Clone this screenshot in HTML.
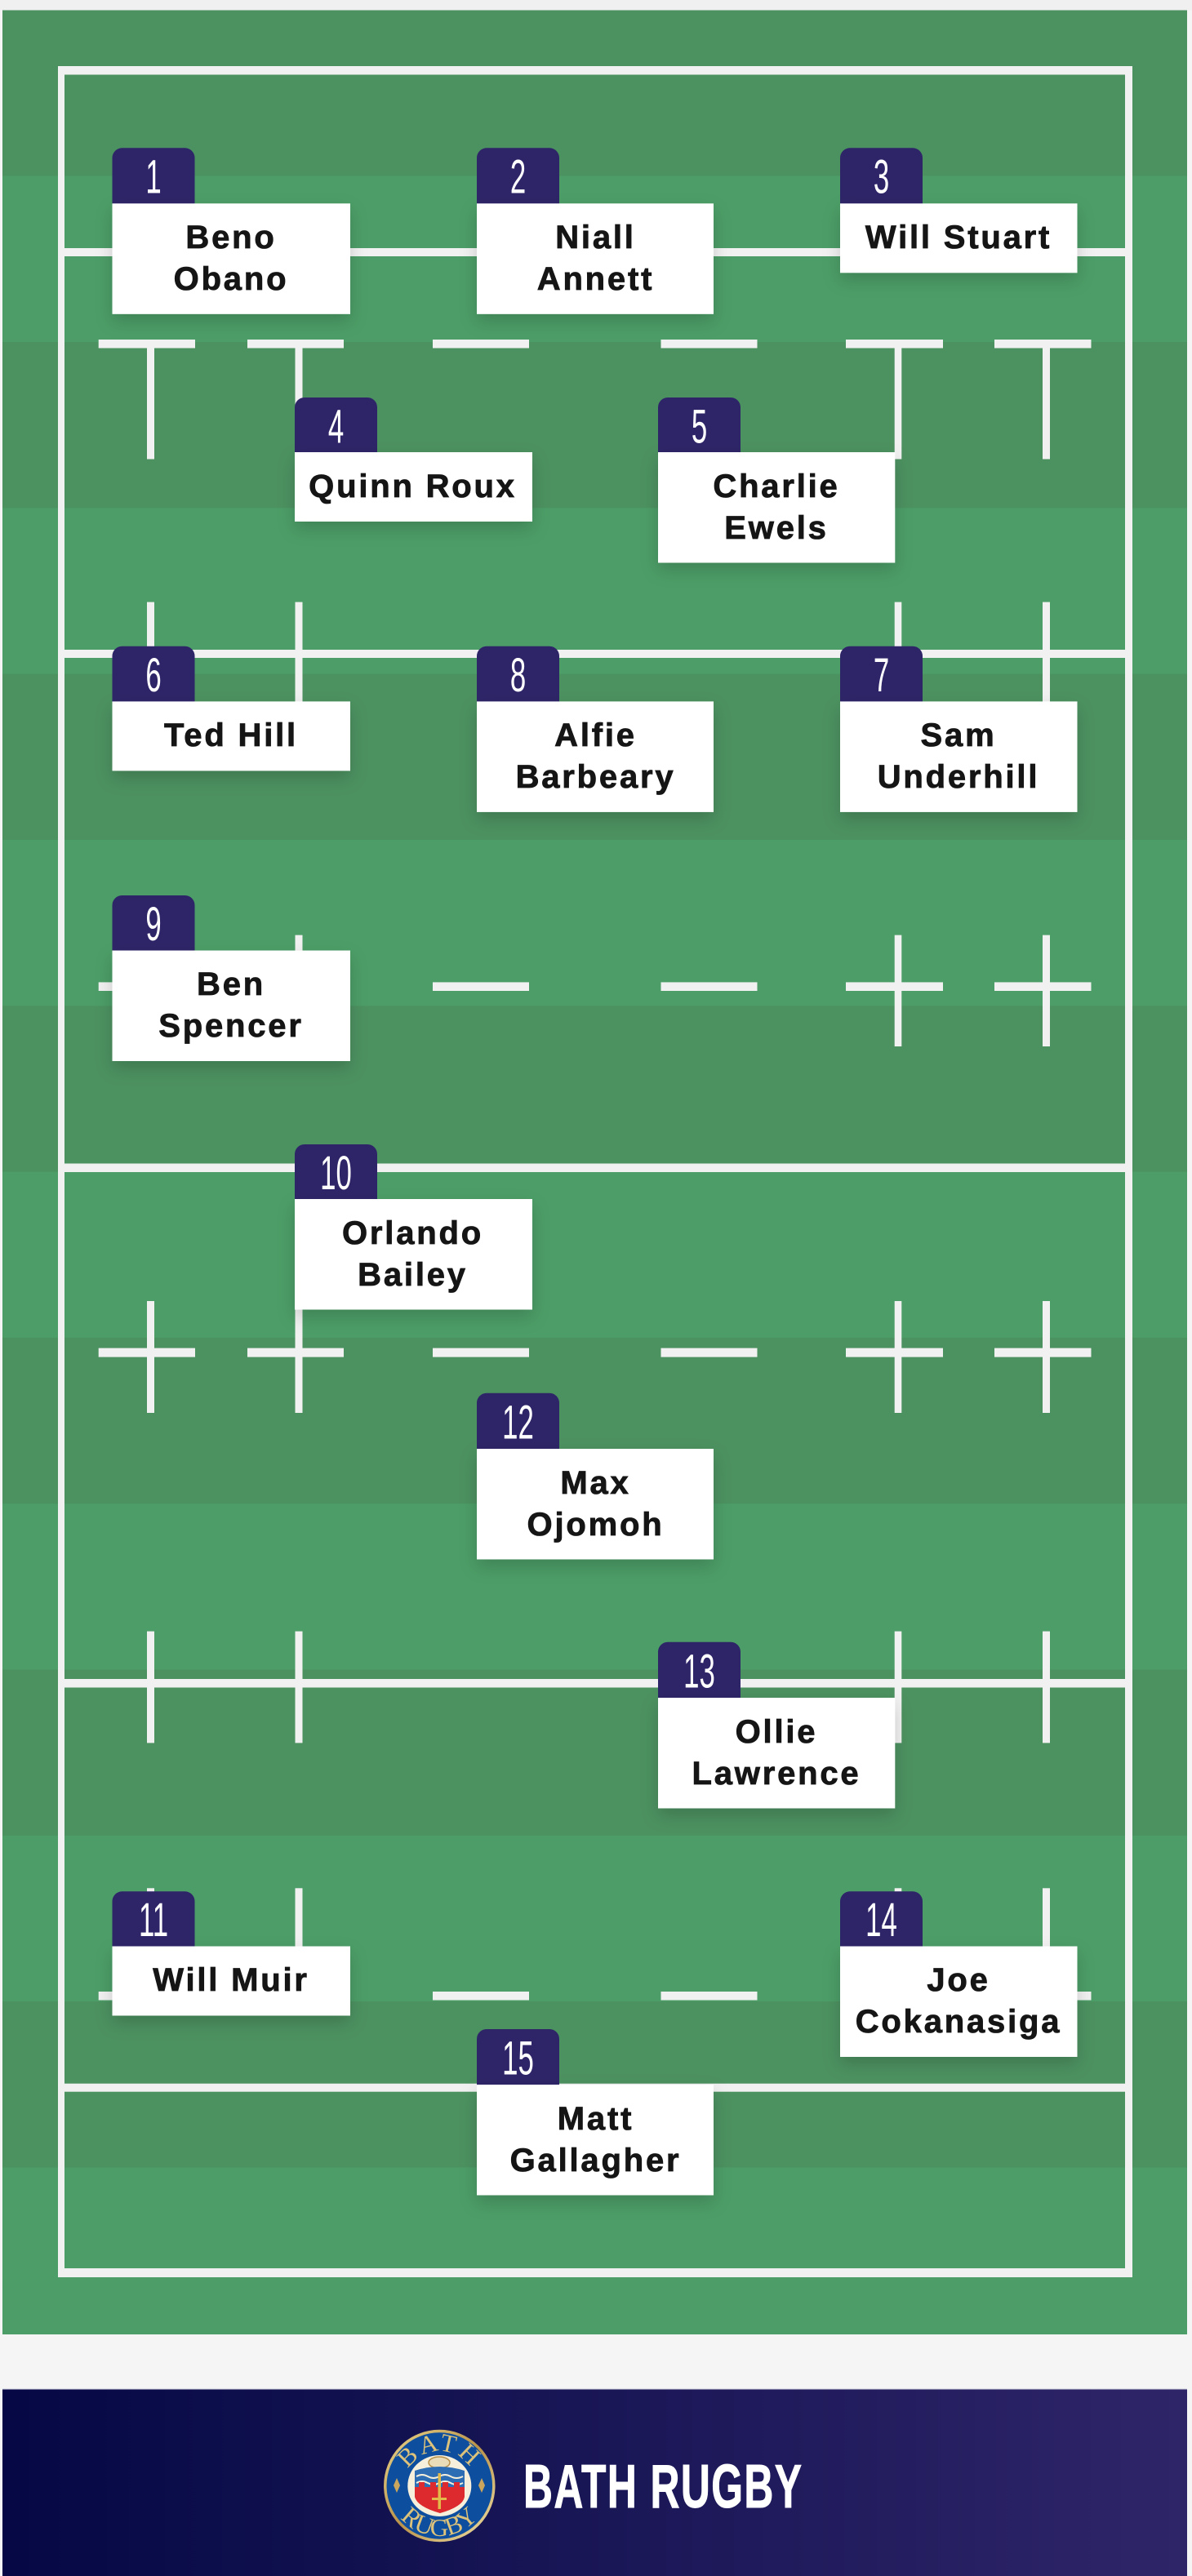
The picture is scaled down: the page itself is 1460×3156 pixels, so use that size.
<!DOCTYPE html>
<html lang="en">
<head>
<meta charset="utf-8">
<title>Bath Rugby Team Sheet</title>
<style>
html,body{margin:0;padding:0;width:1460px;height:3156px;overflow:hidden;background:#f5f5f5}
svg{display:block}
.n{font-family:"Liberation Sans",Arimo,sans-serif;font-weight:700;font-size:40px;letter-spacing:2.8px;fill:#151515;stroke:#151515;stroke-width:.8px;text-anchor:middle}
.d{font-family:"Liberation Sans Narrow","Liberation Sans",sans-serif;font-weight:400;font-size:58px;fill:#fff;text-anchor:middle}
.tab{fill:#2e2568}
.card{fill:#fff;filter:url(#sh)}
.l rect{fill:#f1f1f1}
</style>
</head>
<body>
<svg width="1460" height="3156" viewBox="0 0 1460 3156" xmlns="http://www.w3.org/2000/svg">
<defs>
<filter id="sh" x="-20%" y="-40%" width="140%" height="200%">
<feDropShadow dx="0" dy="9" stdDeviation="10" flood-color="#000" flood-opacity=".17"/>
</filter>
<linearGradient id="foot" x1="0" x2="1" y1="0" y2="0">
<stop offset="0" stop-color="#050845"/>
<stop offset="1" stop-color="#2e2568"/>
</linearGradient>
<linearGradient id="gold" x1="0" x2="1" y1="0" y2="1">
<stop offset="0" stop-color="#e9d489"/>
<stop offset=".5" stop-color="#b9924a"/>
<stop offset="1" stop-color="#efe0a6"/>
</linearGradient>
<path id="arcT" d="M495 3045 A43.5 42 0 0 1 582 3045"/>
<path id="arcB" d="M476 3045 A62 62 0 0 0 600 3045"/>
</defs>

<rect width="1460" height="12.5" fill="#f0f0f0"/>

<!-- pitch -->
<rect x="3" y="12.5" width="1451" height="2847.5" fill="#4c9d67"/>
<g fill="#4c9160">
<rect x="3" y="12.5" width="1451" height="203"/>
<rect x="3" y="419" width="1451" height="203.3"/>
<rect x="3" y="825.7" width="1451" height="203.3"/>
<rect x="3" y="1232.3" width="1451" height="203.3"/>
<rect x="3" y="1638.9" width="1451" height="203.3"/>
<rect x="3" y="2045.5" width="1451" height="203.3"/>
<rect x="3" y="2452.1" width="1451" height="203.3"/>
</g>

<!-- lines -->
<g class="l">
<rect x="71" y="81" width="1316" height="10.5"/>
<rect x="71" y="2779" width="1316" height="11"/>
<rect x="71" y="81" width="8" height="2709"/>
<rect x="1378" y="81" width="9" height="2709"/>
<rect x="79" y="304" width="1299" height="10"/>
<rect x="79" y="796" width="1299" height="10"/>
<rect x="79" y="1425.5" width="1299" height="10.5"/>
<rect x="79" y="2057" width="1299" height="10.5"/>
<rect x="79" y="2552.7" width="1299" height="10"/>

<rect x="120.7" y="416" width="118.3" height="10.5"/><rect x="303" y="416" width="118" height="10.5"/><rect x="530" y="416" width="118" height="10.5"/><rect x="809.5" y="416" width="118" height="10.5"/><rect x="1036" y="416" width="119" height="10.5"/><rect x="1218" y="416" width="118.5" height="10.5"/>
<rect x="120.7" y="1203.4" width="118.3" height="10.6"/><rect x="303" y="1203.4" width="118" height="10.6"/><rect x="530" y="1203.4" width="118" height="10.6"/><rect x="809.5" y="1203.4" width="118" height="10.6"/><rect x="1036" y="1203.4" width="119" height="10.6"/><rect x="1218" y="1203.4" width="118.5" height="10.6"/>
<rect x="120.7" y="1651.6" width="118.3" height="11"/><rect x="303" y="1651.6" width="118" height="11"/><rect x="530" y="1651.6" width="118" height="11"/><rect x="809.5" y="1651.6" width="118" height="11"/><rect x="1036" y="1651.6" width="119" height="11"/><rect x="1218" y="1651.6" width="118.5" height="11"/>
<rect x="120.7" y="2440" width="118.3" height="10.5"/><rect x="303" y="2440" width="118" height="10.5"/><rect x="530" y="2440" width="118" height="10.5"/><rect x="809.5" y="2440" width="118" height="10.5"/><rect x="1036" y="2440" width="119" height="10.5"/><rect x="1218" y="2440" width="118.5" height="10.5"/>

<rect x="180" y="416" width="9" height="146.5"/><rect x="361.5" y="416" width="9" height="146.5"/><rect x="1095.7" y="416" width="8.6" height="146.5"/><rect x="1277" y="416" width="9" height="146.5"/>
<rect x="180" y="737.6" width="9" height="136"/><rect x="361.5" y="737.6" width="9" height="136"/><rect x="1095.7" y="737.6" width="8.6" height="136"/><rect x="1277" y="737.6" width="9" height="136"/>
<rect x="180" y="1145.6" width="9" height="136.4"/><rect x="361.5" y="1145.6" width="9" height="136.4"/><rect x="1095.7" y="1145.6" width="8.6" height="136.4"/><rect x="1277" y="1145.6" width="9" height="136.4"/>
<rect x="180" y="1594" width="9" height="137"/><rect x="361.5" y="1594" width="9" height="137"/><rect x="1095.7" y="1594" width="8.6" height="137"/><rect x="1277" y="1594" width="9" height="137"/>
<rect x="180" y="1998.6" width="9" height="136.8"/><rect x="361.5" y="1998.6" width="9" height="136.8"/><rect x="1095.7" y="1998.6" width="8.6" height="136.8"/><rect x="1277" y="1998.6" width="9" height="136.8"/>
<rect x="180" y="2313.3" width="9" height="137"/><rect x="361.5" y="2313.3" width="9" height="137"/><rect x="1095.7" y="2313.3" width="8.6" height="137"/><rect x="1277" y="2313.3" width="9" height="137"/>
</g>

<!-- 1 -->
<path class="tab" d="M137.5 249.5V193.3a12 12 0 0 1 12-12h77a12 12 0 0 1 12 12V249.5z"/>
<rect class="card" x="137.5" y="249.3" width="291.5" height="135.5"/>
<text class="d" transform="translate(188,236.7) scale(.6,1)">1</text>
<text class="n" x="283" y="304">Beno</text><text class="n" x="283" y="355">Obano</text>
<!-- 2 -->
<path class="tab" d="M584 249.5V193.3a12 12 0 0 1 12-12h77a12 12 0 0 1 12 12V249.5z"/>
<rect class="card" x="584" y="249.3" width="290" height="135.5"/>
<text class="d" transform="translate(634.5,236.7) scale(.6,1)">2</text>
<text class="n" x="729.5" y="304">Niall</text><text class="n" x="729.5" y="355">Annett</text>
<!-- 3 -->
<path class="tab" d="M1029 249.5V193.3a12 12 0 0 1 12-12h77a12 12 0 0 1 12 12V249.5z"/>
<rect class="card" x="1029" y="249.3" width="290.5" height="85"/>
<text class="d" transform="translate(1079.5,236.7) scale(.6,1)">3</text>
<text class="n" x="1174" y="304">Will Stuart</text>
<!-- 4 -->
<path class="tab" d="M361 554.2V499a12 12 0 0 1 12-12h77a12 12 0 0 1 12 12V554.2z"/>
<rect class="card" x="361" y="554" width="291" height="85"/>
<text class="d" transform="translate(411.5,542.5) scale(.6,1)">4</text>
<text class="n" x="505.5" y="609">Quinn Roux</text>
<!-- 5 -->
<path class="tab" d="M806 554.2V499a12 12 0 0 1 12-12h77a12 12 0 0 1 12 12V554.2z"/>
<rect class="card" x="806" y="554" width="290.3" height="135.5"/>
<text class="d" transform="translate(856.5,542.5) scale(.6,1)">5</text>
<text class="n" x="951" y="609">Charlie</text><text class="n" x="951" y="660">Ewels</text>
<!-- 6 -->
<path class="tab" d="M137.5 859.6V803.7a12 12 0 0 1 12-12h77a12 12 0 0 1 12 12V859.6z"/>
<rect class="card" x="137.5" y="859.4" width="291.5" height="85"/>
<text class="d" transform="translate(188,846.9) scale(.6,1)">6</text>
<text class="n" x="283" y="914">Ted Hill</text>
<!-- 8 -->
<path class="tab" d="M584 859.6V803.7a12 12 0 0 1 12-12h77a12 12 0 0 1 12 12V859.6z"/>
<rect class="card" x="584" y="859.4" width="290" height="135.5"/>
<text class="d" transform="translate(634.5,846.9) scale(.6,1)">8</text>
<text class="n" x="729.5" y="914">Alfie</text><text class="n" x="729.5" y="965">Barbeary</text>
<!-- 7 -->
<path class="tab" d="M1029 859.6V803.7a12 12 0 0 1 12-12h77a12 12 0 0 1 12 12V859.6z"/>
<rect class="card" x="1029" y="859.4" width="290.5" height="135.5"/>
<text class="d" transform="translate(1079.5,846.9) scale(.6,1)">7</text>
<text class="n" x="1174" y="914">Sam</text><text class="n" x="1174" y="965">Underhill</text>
<!-- 9 -->
<path class="tab" d="M137.5 1164.7V1109a12 12 0 0 1 12-12h77a12 12 0 0 1 12 12V1164.7z"/>
<rect class="card" x="137.5" y="1164.5" width="291.5" height="135.5"/>
<text class="d" transform="translate(188,1152) scale(.6,1)">9</text>
<text class="n" x="283" y="1219">Ben</text><text class="n" x="283" y="1270">Spencer</text>
<!-- 10 -->
<path class="tab" d="M361 1469.2V1414a12 12 0 0 1 12-12h77a12 12 0 0 1 12 12V1469.2z"/>
<rect class="card" x="361" y="1469" width="291" height="135.5"/>
<text class="d" transform="translate(411.5,1457) scale(.6,1)">10</text>
<text class="n" x="505.5" y="1524">Orlando</text><text class="n" x="505.5" y="1575">Bailey</text>
<!-- 12 -->
<path class="tab" d="M584 1775.2V1718.7a12 12 0 0 1 12-12h77a12 12 0 0 1 12 12V1775.2z"/>
<rect class="card" x="584" y="1775" width="290" height="135.5"/>
<text class="d" transform="translate(634.5,1762.5) scale(.6,1)">12</text>
<text class="n" x="729.5" y="1830">Max</text><text class="n" x="729.5" y="1881">Ojomoh</text>
<!-- 13 -->
<path class="tab" d="M806 2080.2V2023.7a12 12 0 0 1 12-12h77a12 12 0 0 1 12 12V2080.2z"/>
<rect class="card" x="806" y="2080" width="290.3" height="135.5"/>
<text class="d" transform="translate(856.5,2067.5) scale(.6,1)">13</text>
<text class="n" x="951" y="2135">Ollie</text><text class="n" x="951" y="2186">Lawrence</text>
<!-- 11 -->
<path class="tab" d="M137.5 2384.7V2329.3a12 12 0 0 1 12-12h77a12 12 0 0 1 12 12V2384.7z"/>
<rect class="card" x="137.5" y="2384.5" width="291.5" height="85"/>
<text class="d" transform="translate(188,2372) scale(.6,1)">11</text>
<text class="n" x="283" y="2439">Will Muir</text>
<!-- 14 -->
<path class="tab" d="M1029 2384.7V2329.3a12 12 0 0 1 12-12h77a12 12 0 0 1 12 12V2384.7z"/>
<rect class="card" x="1029" y="2384.5" width="290.5" height="135.5"/>
<text class="d" transform="translate(1079.5,2372) scale(.6,1)">14</text>
<text class="n" x="1174" y="2439">Joe</text><text class="n" x="1174" y="2490">Cokanasiga</text>
<!-- 15 -->
<path class="tab" d="M584 2554.2V2498a12 12 0 0 1 12-12h77a12 12 0 0 1 12 12V2554.2z"/>
<rect class="card" x="584" y="2554" width="290" height="135.5"/>
<text class="d" transform="translate(634.5,2541.5) scale(.6,1)">15</text>
<text class="n" x="729.5" y="2609">Matt</text><text class="n" x="729.5" y="2660">Gallagher</text>

<!-- footer -->
<rect x="3" y="2927" width="1451" height="229" fill="url(#foot)"/>
<rect x="3" y="2926.5" width="1451" height="1.5" fill="#a9a9c2" opacity=".6"/>

<!-- crest -->
<ellipse cx="538.3" cy="3045.5" rx="66.5" ry="67" fill="#0d4e9f" stroke="url(#gold)" stroke-width="3.5"/>
<text font-family="'Liberation Serif',serif" font-size="31" fill="#dcc27a" letter-spacing="3" text-anchor="middle"><textPath href="#arcT" startOffset="50%">BATH</textPath></text>
<text font-family="'Liberation Serif',serif" font-size="31" fill="#dcc27a" letter-spacing="0" text-anchor="middle"><textPath href="#arcB" startOffset="50%">RUGBY</textPath></text>
<path d="M486 3036l4 9-4 9-4-9zM590 3036l4 9-4 9-4-9z" fill="#c9a55e"/>
<ellipse cx="538.3" cy="3045.5" rx="39" ry="37.5" fill="#f6efdc"/>
<ellipse cx="538" cy="3017" rx="13" ry="7" fill="#e9dcb8" stroke="#b9924a" stroke-width="1.5"/>
<path d="M508 3027q30-10 61 0v21h-61z" fill="#2c6db3"/>
<path d="M510 3034q7-4 14 0t14 0t14 0t15 0M510 3042q7-4 14 0t14 0t14 0t15 0" fill="none" stroke="#f6efdc" stroke-width="2"/>
<path d="M508 3047h5v-6h7v6h7v-6h7v6h8v-6h7v6h7v-6h7v6h6v12q-2 12-30 20-28-8-31-20z" fill="#dc2a2e"/>
<path d="M536.5 3030h3.5v44h-3.5zM529 3060h18v3h-18z" fill="#e3b94a"/>

<text transform="translate(641,3072) scale(.66,1)" textLength="516.7" lengthAdjust="spacing" font-family="'Liberation Sans Narrow','Liberation Sans',sans-serif" font-weight="700" font-size="75.5" fill="#ffffff" stroke="#ffffff" stroke-width="1">BATH RUGBY</text>
</svg>
</body>
</html>
